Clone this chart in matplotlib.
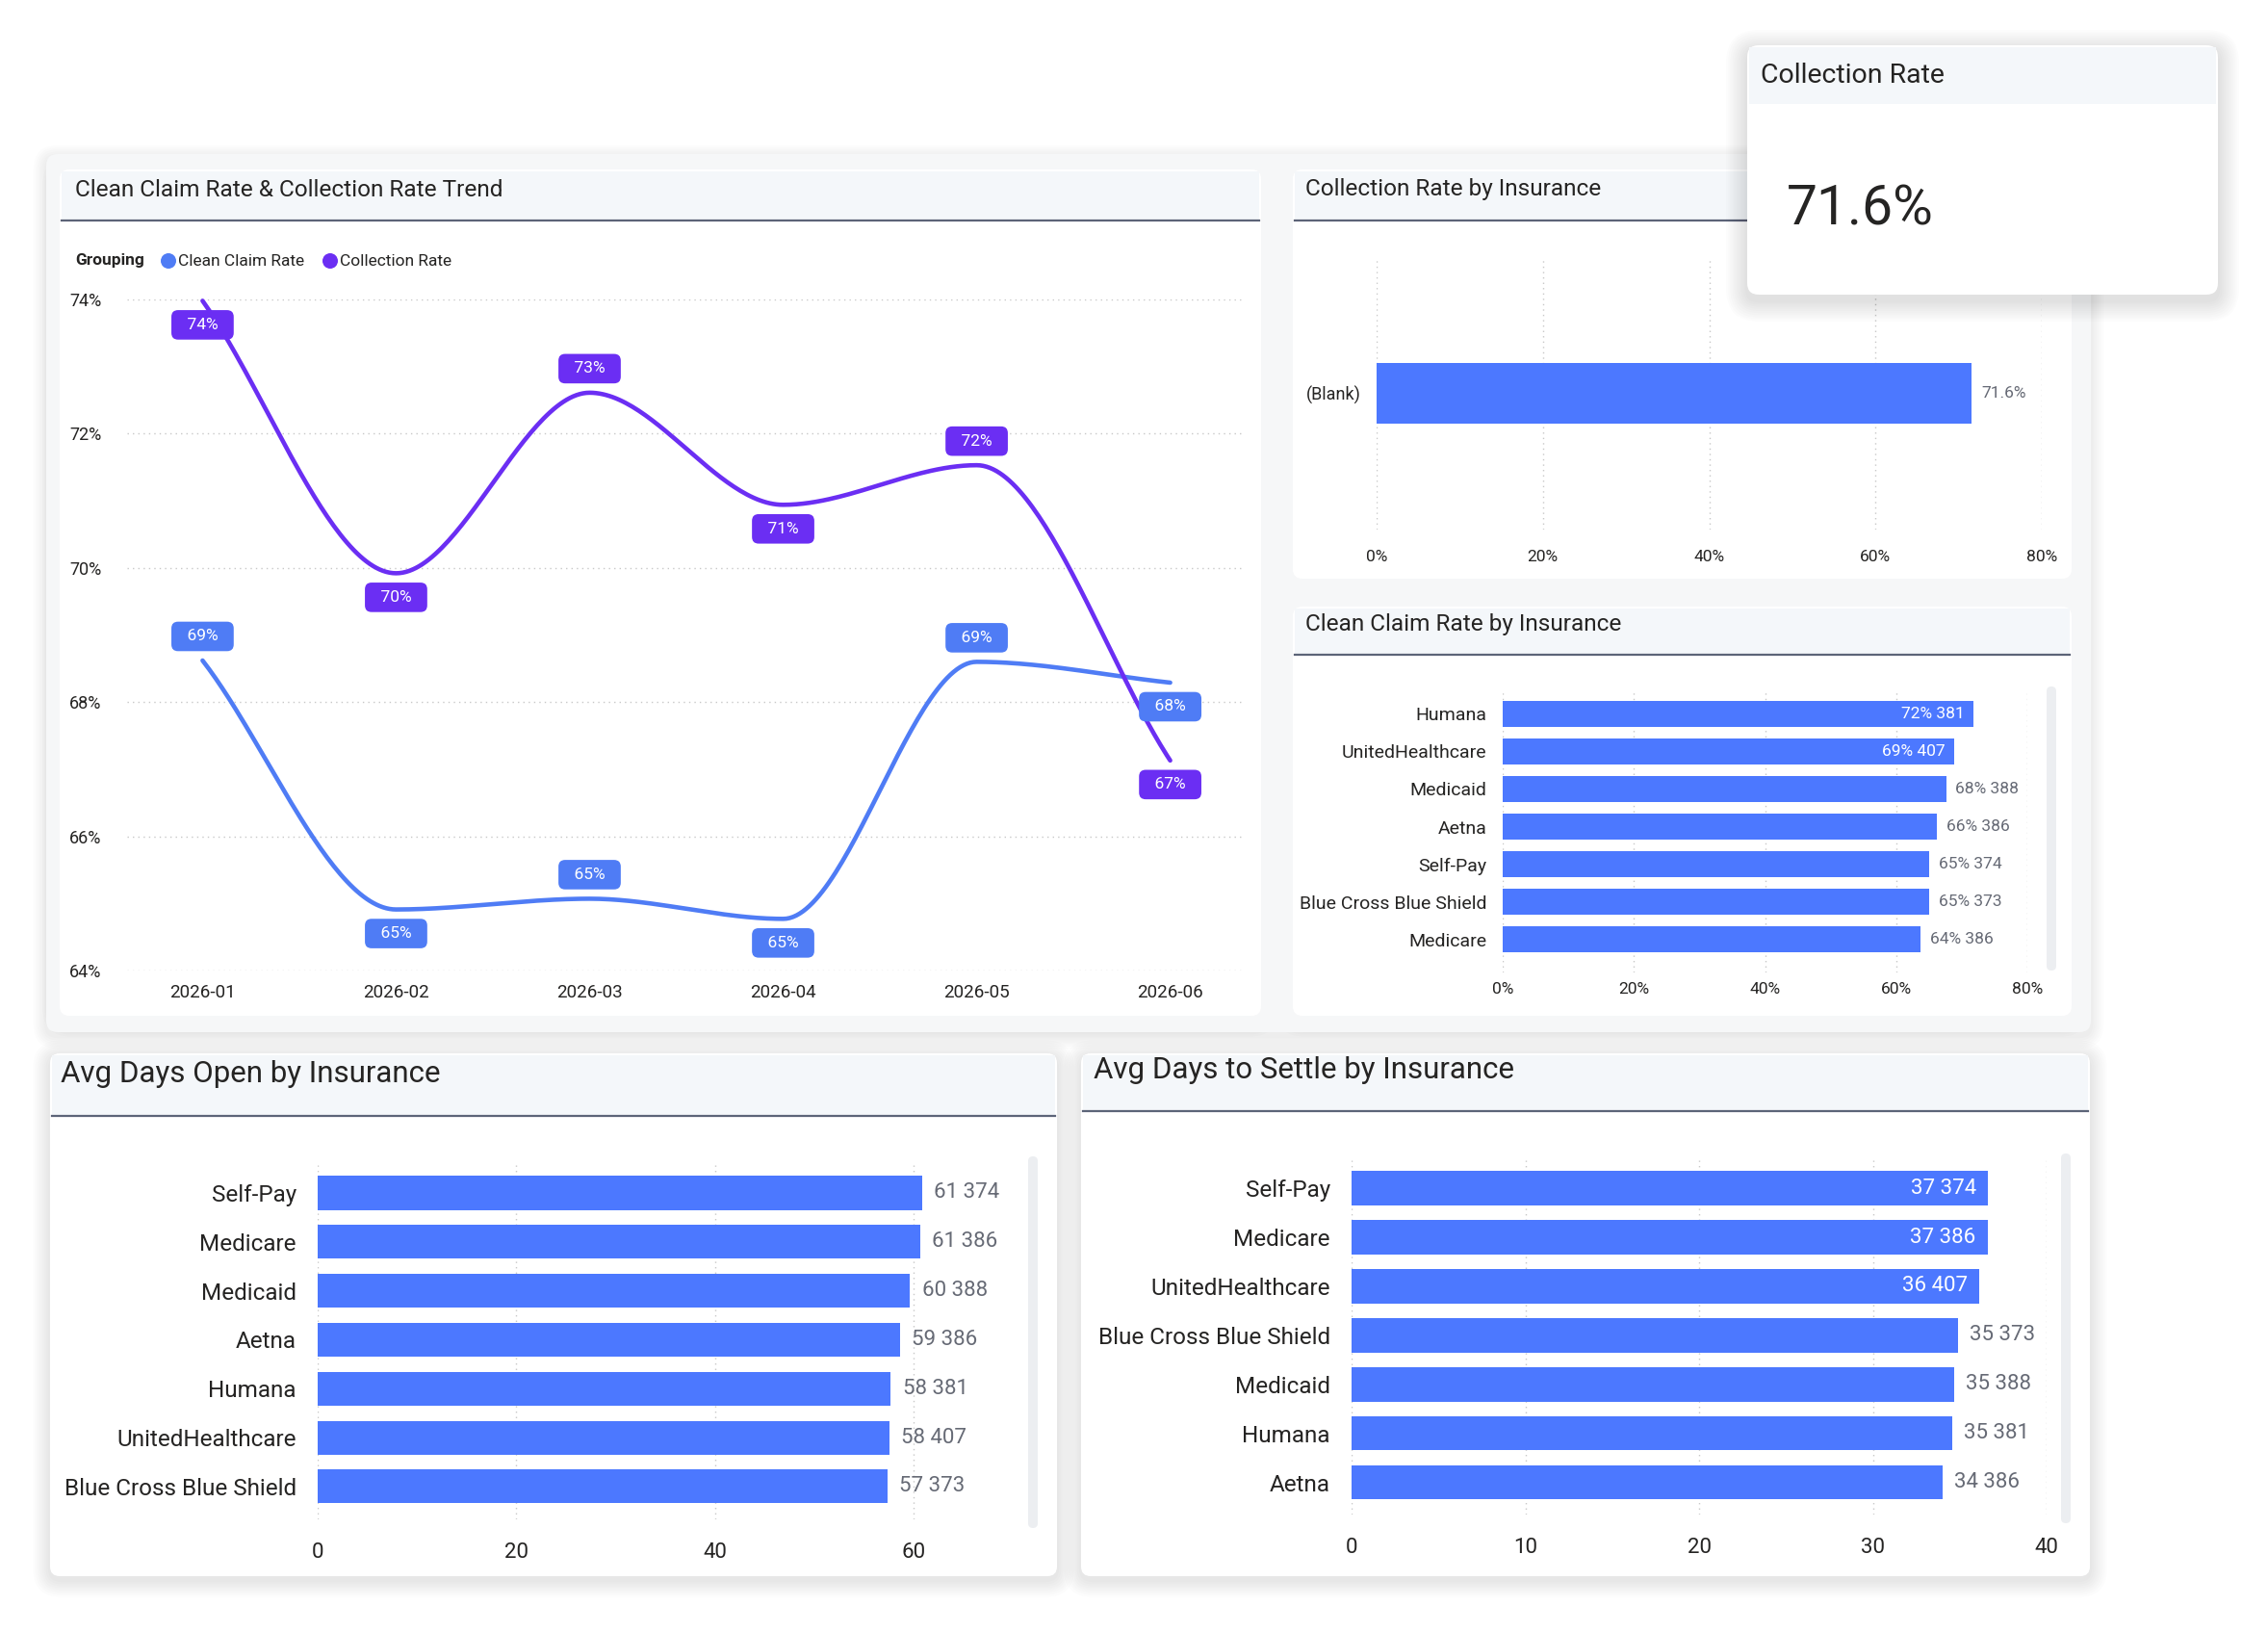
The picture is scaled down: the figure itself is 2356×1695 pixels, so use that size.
import numpy as np
import matplotlib
matplotlib.use('Agg')
import matplotlib.pyplot as plt
from matplotlib.patches import FancyBboxPatch, Rectangle, Circle

plt.rcParams['font.family'] = ['Roboto', 'DejaVu Sans']

# ---- data ----
months = ['2026-01', '2026-02', '2026-03', '2026-04', '2026-05', '2026-06']
clean_claim_rate = [68.62, 64.91, 65.07, 64.77, 68.60, 68.29]
collection_rate = [73.98, 69.92, 72.61, 70.94, 71.53, 67.13]

coll_ins = ['(Blank)']
coll_ins_rate = [71.6]
kpi_collection = 71.6

cc_ins = ['Humana', 'UnitedHealthcare', 'Medicaid', 'Aetna', 'Self-Pay', 'Blue Cross Blue Shield', 'Medicare']
cc_rate = [71.8, 68.9, 67.6, 66.2, 65.1, 65.0, 63.7]
cc_count = [381, 407, 388, 386, 374, 373, 386]

open_ins = ['Self-Pay', 'Medicare', 'Medicaid', 'Aetna', 'Humana', 'UnitedHealthcare', 'Blue Cross Blue Shield']
open_days = [60.85, 60.66, 59.67, 58.62, 57.70, 57.57, 57.38]
open_count = [374, 386, 388, 386, 381, 407, 373]

settle_ins = ['Self-Pay', 'Medicare', 'UnitedHealthcare', 'Blue Cross Blue Shield', 'Medicaid', 'Humana', 'Aetna']
settle_days = [36.63, 36.63, 36.14, 34.90, 34.68, 34.55, 34.00]
settle_count = [374, 386, 407, 373, 388, 381, 386]

# ---- styling ----
BAR = '#4c78ff'
PURPLE = '#6b2ef3'
BLUE = '#4f7cf5'
HEAD = '#f4f7fa'
HLINE = '#5c6478'
TXT = '#252423'
LBL = '#666a75'
GRID = '#c8c8c8'

W, H = 2356, 1695
fig = plt.figure(figsize=(W / 100, H / 100), dpi=100)
fig.patch.set_facecolor('white')

bg = fig.add_axes([0, 0, 1, 1])
bg.set_xlim(0, W)
bg.set_ylim(H, 0)
bg.axis('off')


def add_ax(x0, y0, x1, y1):
    return fig.add_axes([x0 / W, 1 - y1 / H, (x1 - x0) / W, (y1 - y0) / H])


def shadow(ax, x0, y0, x1, y1, r=12, n=8, a=0.012, dy=4):
    for i in range(n, 0, -1):
        g = i * 2.2
        ax.add_patch(FancyBboxPatch((x0 - g, y0 - g + dy), x1 - x0 + 2 * g, y1 - y0 + 2 * g,
                                    boxstyle='round,pad=0,rounding_size=%d' % (r + g),
                                    fc='black', ec='none', alpha=a, zorder=1))


def card(ax, x0, y0, x1, y1, hb, title, size, ty, tx):
    shadow(ax, x0, y0, x1, y1)
    ax.add_patch(FancyBboxPatch((x0, y0), x1 - x0, y1 - y0, boxstyle='round,pad=0,rounding_size=10',
                                fc='white', ec='none', zorder=2))
    ax.add_patch(Rectangle((x0 + 2, y0 + 2), x1 - x0 - 4, hb - y0 - 2, fc=HEAD, ec='none', zorder=3))
    ax.plot([x0 + 2, x1 - 2], [hb, hb], color=HLINE, lw=1.6, zorder=4)
    ax.text(tx, ty, title, fontsize=size, color=TXT, va='center', ha='left', zorder=5)


def scrollbar(x, y0, y1):
    bg.add_patch(FancyBboxPatch((x - 5, y0), 10, y1 - y0, boxstyle='round,pad=0,rounding_size=5',
                                fc='#eceef1', ec='none', zorder=5))


def smooth(x, y, n=60):
    # monotone cubic (Fritsch-Carlson) through the data points, like the smoothed line in the report
    x = np.asarray(x, float)
    y = np.asarray(y, float)
    h = np.diff(x)
    d = np.diff(y) / h
    m = np.zeros_like(y)
    m[0], m[-1] = d[0], d[-1]
    for k in range(1, len(y) - 1):
        if d[k - 1] * d[k] > 0:
            m[k] = 2 / (1 / d[k - 1] + 1 / d[k])
    xs, ys = [], []
    for k in range(len(h)):
        t = np.linspace(0, 1, n)
        h00 = 2 * t**3 - 3 * t**2 + 1
        h10 = t**3 - 2 * t**2 + t
        h01 = -2 * t**3 + 3 * t**2
        h11 = t**3 - t**2
        xs.append(x[k] + t * h[k])
        ys.append(h00 * y[k] + h10 * h[k] * m[k] + h01 * y[k + 1] + h11 * h[k] * m[k + 1])
    return np.concatenate(xs), np.concatenate(ys)


# top group background
shadow(bg, 48, 160, 2172, 1072, n=6, a=0.01)
bg.add_patch(FancyBboxPatch((48, 160), 2124, 912, boxstyle='round,pad=0,rounding_size=12',
                            fc='#f6f7f8', ec='none', zorder=1.5))

card(bg, 62, 176, 1310, 1055, 229, 'Clean Claim Rate & Collection Rate Trend', 17.6, 197, 78)
card(bg, 1343, 176, 2152, 601, 229, 'Collection Rate by Insurance', 17.6, 196, 1356)
card(bg, 1343, 630, 2152, 1055, 680, 'Clean Claim Rate by Insurance', 17.6, 648, 1356)
card(bg, 52, 1094, 1098, 1637, 1159, 'Avg Days Open by Insurance', 22.5, 1116, 63)
card(bg, 1123, 1094, 2171, 1637, 1154, 'Avg Days to Settle by Insurance', 22.5, 1112, 1136)

scrollbar(2131, 713, 1008)
scrollbar(1073, 1201, 1587)
scrollbar(2146, 1198, 1582)

# legend of line chart
bg.text(78, 271, 'Grouping', fontsize=12.5, fontweight='bold', color=TXT, va='center', zorder=5)
bg.add_patch(Circle((175, 271), 8, fc=BLUE, ec='none', zorder=5))
bg.text(185, 271, 'Clean Claim Rate', fontsize=12.5, color=TXT, va='center', zorder=5)
bg.add_patch(Circle((343, 271), 8, fc=PURPLE, ec='none', zorder=5))
bg.text(353, 271, 'Collection Rate', fontsize=12.5, color=TXT, va='center', zorder=5)

# ---- line chart ----
ax = add_ax(132, 311, 1292, 1008)
ax.set_facecolor('none')
x = np.arange(len(months))
for vals, col, pos in [(clean_claim_rate, BLUE, [1, -1, 1, -1, 1, -1]),
                       (collection_rate, PURPLE, [-1, -1, 1, -1, 1, -1])]:
    sx, sy = smooth(x, vals)
    ax.plot(sx, sy, color=col, lw=3.3, solid_capstyle='round', clip_on=False, zorder=3)
    for i, v in enumerate(vals):
        ax.annotate('  %d%%  ' % round(v), (i, v), xytext=(0, 18 * pos[i]), textcoords='offset points',
                    ha='center', va='center', fontsize=12.5, color='white', zorder=5,
                    bbox=dict(boxstyle='round,pad=0.45,rounding_size=0.4', fc=col, ec='none'))
ax.set_xlim(-0.39, 5.38)
ax.set_ylim(64, 74)
ax.set_yticks([64, 66, 68, 70, 72, 74])
ax.set_yticklabels(['%d%%' % t for t in [64, 66, 68, 70, 72, 74]])
ax.set_xticks(x)
ax.set_xticklabels(months)
ax.grid(axis='y', color=GRID, lw=1, ls=(0, (1, 3)))
ax.set_axisbelow(True)
ax.tick_params(axis='y', length=0, labelsize=13, pad=19, colors=TXT)
ax.tick_params(axis='x', length=0, labelsize=13.5, pad=10, colors=TXT)
for s in ax.spines.values():
    s.set_visible(False)


def bar_chart(box, names, vals, counts, xmax, ticks, tickfmt, lo, hi, lsize, tsize, csize, lpad, tpad,
              cutoff, off, height=0.69, fmt='%d%% %d'):
    a = add_ax(*box)
    a.set_facecolor('none')
    y = np.arange(len(names))
    a.barh(y, vals, height=height, color=BAR, zorder=2)
    for i, v in enumerate(vals):
        s = fmt % (round(v), counts[i]) if counts is not None else fmt % v
        if v > cutoff:
            a.annotate(s, (v, i), xytext=(-off, 0), textcoords='offset points', ha='right', va='center',
                       color='white', fontsize=lsize, zorder=3)
        else:
            a.annotate(s, (v, i), xytext=(off, 0), textcoords='offset points', ha='left', va='center',
                       color=LBL, fontsize=lsize, zorder=3, annotation_clip=False)
    a.set_xlim(0, xmax)
    a.set_ylim(hi, lo)
    a.set_yticks(y)
    a.set_yticklabels(names)
    a.set_xticks(ticks)
    a.set_xticklabels([tickfmt % t for t in ticks])
    a.grid(axis='x', color=GRID, lw=1, ls=(0, (1, 3)))
    a.set_axisbelow(True)
    a.tick_params(axis='y', length=0, labelsize=csize, pad=lpad, colors=TXT)
    a.tick_params(axis='x', length=0, labelsize=tsize, pad=tpad, colors=TXT)
    for s in a.spines.values():
        s.set_visible(False)
    return a


# Collection Rate by Insurance
bar_chart((1430, 267, 2121, 550), coll_ins, coll_ins_rate, None, 80, [0, 20, 40, 60, 80], '%d%%',
          -1, 1, 12.5, 12.5, 13, 12, 15, 100, 7, height=0.44, fmt='%.1f%%')

# Clean Claim Rate by Insurance
bar_chart((1561, 718, 2106, 1010), cc_ins, cc_rate, cc_count, 80, [0, 20, 40, 60, 80], '%d%%',
          -0.59, 6.87, 12.5, 12.5, 14, 12, 7, 68.5, 7)

# Avg Days Open by Insurance (axis runs a little past 60)
bar_chart((330, 1210, 990, 1578), open_ins, open_days, open_count, 64, [0, 20, 40, 60], '%d',
          -0.57, 6.67, 16, 16, 17.5, 16, 17, 100, 9, fmt='%d %d')

# Avg Days to Settle by Insurance
bar_chart((1404, 1205, 2126, 1573), settle_ins, settle_days, settle_count, 40, [0, 10, 20, 30, 40], '%d',
          -0.57, 6.65, 16, 16, 17.5, 16, 17, 35.5, 9, fmt='%d %d')

# ---- KPI card on top ----
kx0, ky0, kx1, ky1 = 1780, 15, 2345, 345
kax = add_ax(kx0, ky0, kx1, ky1)
kax.set_zorder(10)
kax.set_xlim(kx0, kx1)
kax.set_ylim(ky1, ky0)
kax.axis('off')
shadow(kax, 1815, 47, 2304, 306, n=10, a=0.011, dy=6)
kax.add_patch(FancyBboxPatch((1815, 47), 489, 259, boxstyle='round,pad=0,rounding_size=12',
                             fc='white', ec='none', zorder=2))
kax.add_patch(Rectangle((1817, 49), 485, 59, fc=HEAD, ec='none', zorder=3))
kax.text(1829, 78, 'Collection Rate', fontsize=20.5, color=TXT, va='center', zorder=5)
kax.text(1856, 218, '%.1f%%' % kpi_collection, fontsize=41, color=TXT, va='center', zorder=5)

fig.savefig('out.png', dpi=100, facecolor='white')
